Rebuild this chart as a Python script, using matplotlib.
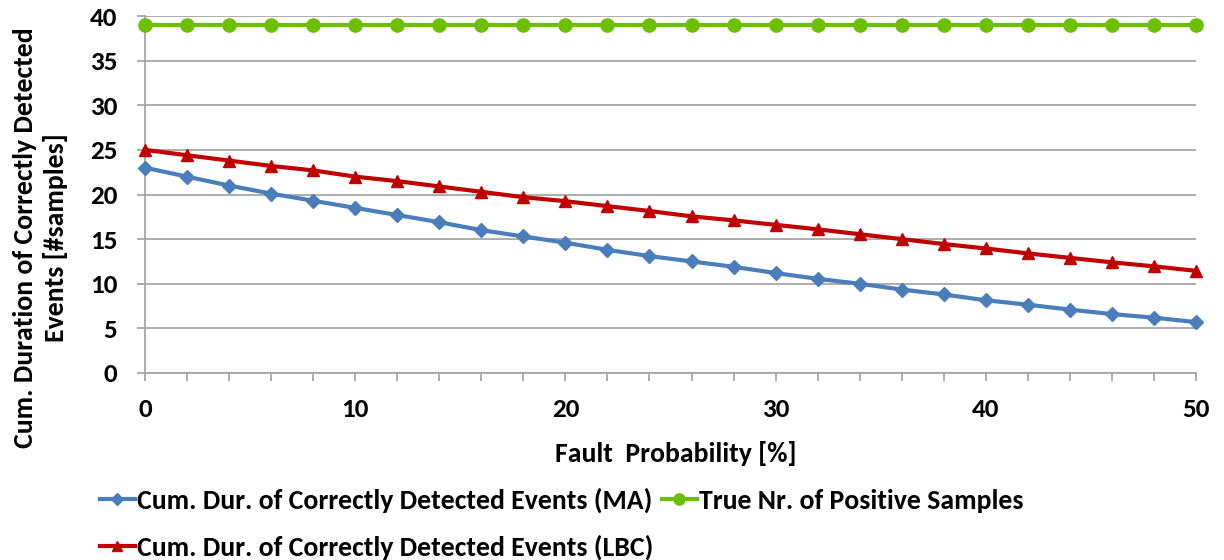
import matplotlib

matplotlib.use("Agg")
import matplotlib.pyplot as plt
from matplotlib.ticker import MultipleLocator

plt.rcParams["font.family"] = ["Carlito", "Lato", "DejaVu Sans"]
plt.rcParams["font.weight"] = "bold"

fault_prob = [0, 2, 4, 6, 8, 10, 12, 14, 16, 18, 20, 22, 24, 26, 28, 30, 32, 34, 36, 38, 40, 42, 44, 46, 48, 50]
dur_ma = [23.0, 22.0, 21.0, 20.1, 19.3, 18.5, 17.7, 16.9, 16.0, 15.3, 14.6, 13.8, 13.1,
          12.5, 11.9, 11.2, 10.55, 10.0, 9.35, 8.8, 8.15, 7.65, 7.1, 6.6, 6.2, 5.7]
dur_lbc = [25.0, 24.4, 23.8, 23.2, 22.7, 22.0, 21.5, 20.9, 20.3, 19.7, 19.25, 18.7, 18.15,
           17.55, 17.1, 16.6, 16.1, 15.55, 15.0, 14.45, 13.95, 13.4, 12.9, 12.4, 11.95, 11.45]
true_pos = [39] * len(fault_prob)

label_ma = "Cum. Dur. of Correctly Detected Events (MA)"
label_lbc = "Cum. Dur. of Correctly Detected Events (LBC)"
label_true = "True Nr. of Positive Samples"

fig = plt.figure(figsize=(12.24, 5.6), dpi=100)
ax = fig.add_axes([145 / 1224, 1 - 373 / 560, (1196 - 145) / 1224, (373 - 16) / 560])

h_ma, = ax.plot(fault_prob, dur_ma, color="#4a7ebb", linewidth=3, marker="D",
                markersize=7.5, label=label_ma, clip_on=False, zorder=3)
h_lbc, = ax.plot(fault_prob, dur_lbc, color="#c00000", linewidth=3, marker="^",
                 markersize=8.5, label=label_lbc, clip_on=False, zorder=3)
h_true, = ax.plot(fault_prob, true_pos, color="#6cc000", linewidth=3, marker="o",
                  markersize=9.5, label=label_true, clip_on=False, zorder=3)

ax.set_xlim(0, 50)
ax.set_ylim(0, 40)
ax.xaxis.set_major_locator(MultipleLocator(10))
ax.xaxis.set_minor_locator(MultipleLocator(2))
ax.yaxis.set_major_locator(MultipleLocator(5))
ax.grid(axis="y", color="#a6a6a6", linewidth=1.3)
ax.set_axisbelow(True)
for side in ("top", "right"):
    ax.spines[side].set_visible(False)
for side in ("left", "bottom"):
    ax.spines[side].set_color("#a6a6a6")
    ax.spines[side].set_linewidth(1.3)
ax.tick_params(axis="both", which="both", color="#a6a6a6", width=1.3, length=6, labelsize=19.5)
ax.tick_params(axis="x", which="both", pad=12)
ax.tick_params(axis="y", pad=14)

ax.set_xlabel("Fault  Probability [%]", fontsize=20, fontweight="bold")
ax.xaxis.set_label_coords(0.505, -0.19)
ax.set_ylabel("Cum. Duration of Correctly Detected\nEvents [#samples]", fontsize=20,
              fontweight="bold", linespacing=1.3)
ax.yaxis.set_label_coords(-0.073, 0.38)

fig.legend(handles=[h_ma, h_lbc, h_true], loc="upper left",
           bbox_to_anchor=(100 / 1224, 1 - 488 / 560), borderpad=0, borderaxespad=0,
           ncol=2, frameon=False, fontsize=20, handlelength=1.25, handletextpad=0.07,
           columnspacing=0.32, labelspacing=0.75, markerscale=0.85)

fig.savefig("out.png", dpi=100)
